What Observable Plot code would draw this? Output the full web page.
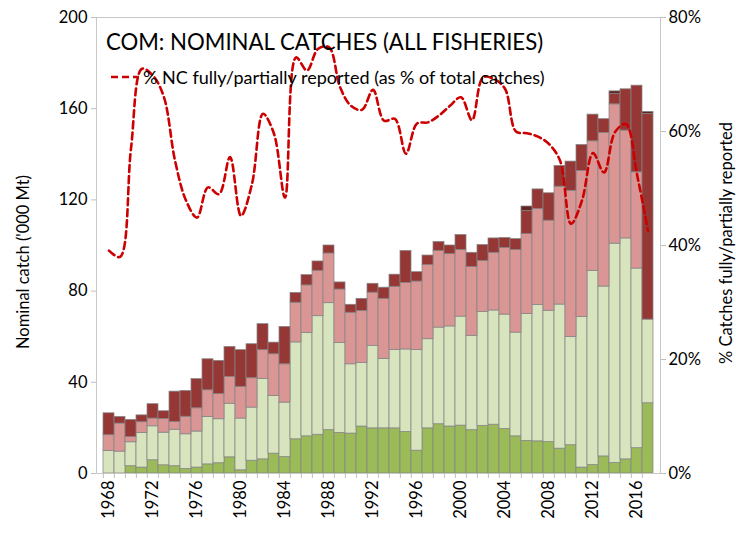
<!DOCTYPE html>
<html><head><meta charset="utf-8">
<script src="https://cdn.jsdelivr.net/npm/d3@7"></script>
<script src="https://cdn.jsdelivr.net/npm/@observablehq/plot@0.6"></script>
<style>
body{margin:0;background:#fff;font-family:Lato,"Open Sans",sans-serif;}
#wrap{position:relative;width:736px;height:533px;}
#title{position:absolute;left:106px;top:28px;font-size:22.2px;line-height:27px;color:#000;white-space:nowrap;}
#legend{position:absolute;left:111px;top:66px;font-size:18px;line-height:22px;color:#000;display:flex;align-items:center;white-space:nowrap;}
#legend svg{margin-right:4px;}
.ytitle{position:absolute;font-size:16.5px;line-height:20px;color:#000;white-space:nowrap;transform:translate(-50%,-50%) rotate(-90deg);}
</style></head><body>
<div id="wrap">
<div id="chart"></div>
<div id="title">COM: NOMINAL CATCHES (ALL FISHERIES)</div>
<div id="legend"><svg width="28" height="8"><line x1="0" y1="4" x2="28" y2="4" stroke="#cc0000" stroke-width="2.6" stroke-dasharray="7,4"/></svg><span>% NC fully/partially reported (as % of total catches)</span></div>
<div class="ytitle" style="left:23px;top:262px;">Nominal catch ('000 Mt)</div>
<div class="ytitle" style="left:726px;top:243px;">% Catches fully/partially reported</div>
</div>
<script>
const years = d3.range(1968, 2018);
const labelYears = [1968,1972,1976,1980,1984,1988,1992,1996,2000,2004,2008,2012,2016];
const leftTicks = [0,40,80,120,160,200];
const rightTicks = [0,20,40,60,80];
const seriesNames = ["Fully reported","Partially reported (a)","Partially reported (b)","Not reported","Unknown"];
const seriesColors = ["#9bbb59","#d7e4bd","#d99694","#953735","#632523"];

// '000 t by year, bottom to top
const darkGreen = [0,0,3.2,2.6,5.8,3.6,3.2,2.0,2.6,4.0,4.5,7.1,1.4,5.6,6.2,8.7,7.2,15.0,16.3,17.0,19.0,17.8,17.5,20.6,19.8,19.8,19.8,18.2,10.0,19.8,21.6,20.6,21.0,19.0,20.9,21.4,19.5,16.3,14.3,14.1,13.8,10.9,12.4,2.6,3.7,7.5,4.6,6.2,11.1,30.8];
const lightGreen = [9.9,9.6,10.5,15.2,14.9,14.3,16.0,15.2,15.8,20.8,19.3,23.5,22.7,23.3,35.2,25.3,23.9,42.5,45.3,52.0,55.7,39.5,30.4,27.9,36.2,30.5,34.4,36.2,44.2,39.1,42.4,43.9,47.8,41.4,49.9,50.1,50.2,45.5,55.6,59.8,57.6,63.2,47.5,66.1,85.2,74.5,96.2,96.9,78.8,36.7];
const pink = [6.9,12.3,2.3,4.7,3.4,6.0,3.4,7.7,10.2,11.7,11.0,11.8,13.9,12.9,12.7,18.3,16.8,17.4,20.9,19.9,21.8,23.4,22.6,22.8,23.3,26.3,27.7,29.2,30.0,32.5,33.6,31.7,29.2,30.2,22.4,25.3,29.2,36.2,35.1,42.1,39.5,51.7,64.1,64.0,56.8,67.4,61.1,47.3,42.2,0];
const darkRed = [9.6,2.9,7.5,3.0,6.3,3.4,13.3,11.3,12.8,13.6,14.6,13.1,16.1,14.9,11.4,5.1,16.4,4.3,4.5,4.1,3.5,3.1,3.5,5.3,3.9,4.9,5.3,14.0,4.1,4.2,3.9,3.8,6.6,6.2,7.0,6.3,4.4,4.8,10.1,8.6,12.0,9.1,12.8,11.4,11.7,6.0,4.5,18.1,38.0,90.1];
const darkest = [0,0,0,0,0,0,0,0,0,0,0,0,0,0,0,0,0,0,0,0,0,0,0,0,0,0,0,0,0,0,0,0,0,0,0,0,0,0,2.0,0,0,0,0,0,0,0,1.2,0,0,1.0];
// % of total catches fully/partially reported
const pctReported = [39.1,38.0,57.0,71.0,69.8,66.0,54.9,47.9,44.9,50.2,49.0,55.5,45.2,50.8,63.1,59.6,48.4,73.0,70.7,74.5,74.8,67.8,64.5,63.8,67.3,61.9,62.2,56.1,61.4,61.6,62.8,64.5,66.0,62.0,69.5,69.2,67.5,60.0,59.7,59.1,57.8,54.9,43.8,47.9,56.2,52.8,59.9,61.3,52.5,42.6];

const seriesValues = [darkGreen, lightGreen, pink, darkRed, darkest];
const rows = [];
seriesValues.forEach((vals, s) => years.forEach((year, i) => rows.push({year, series: seriesNames[s], value: vals[i]})));
const lineRows = years.map((year, i) => ({year, pct: pctReported[i]}));
const PCT_MAX = 80, Y_MAX = 200, K = Y_MAX / PCT_MAX;

const W = 736, ML = 96, MR = 76;
const bw = (W - ML - MR) / years.length;
const font = "Lato, 'Open Sans', sans-serif";

const chart = Plot.plot({
  width: W, height: 533,
  marginLeft: ML, marginRight: MR, marginTop: 17, marginBottom: 60,
  style: {fontFamily: font, fontSize: "16px", color: "#000", background: "#fff", overflow: "visible"},
  x: {type: "band", domain: years, padding: 0, axis: null, label: null},
  y: {domain: [0, Y_MAX], axis: null, label: null},
  color: {domain: seriesNames, range: seriesColors},
  marks: [
    Plot.barY(rows, Plot.stackY({x: "year", y: "value", fill: "series", order: null, stroke: "#858585", strokeWidth: 0.75})),
    Plot.frame({stroke: "#c8c8c8"}),
    Plot.axisY({anchor: "left", ticks: leftTicks, tickSize: 5, tickPadding: 4, stroke: "#bfbfbf", fontSize: 16.5, label: null}),
    Plot.axisY({anchor: "right", ticks: rightTicks.map(d => d * K), tickFormat: d => Math.round(d / K) + "%", tickSize: 5, tickPadding: 3, stroke: "#bfbfbf", fontSize: 16.5, label: null}),
    Plot.axisX({ticks: years, tickSize: 5, tickFormat: () => "", dx: -bw / 2, stroke: "#bfbfbf", label: null}),
    Plot.axisX({ticks: labelYears, tickFormat: d => String(d), tickSize: 0, tickPadding: 7, tickRotate: -90, fontSize: 16.5, label: null}),
    Plot.lineY(lineRows, {x: "year", y: d => d.pct * K, curve: "catmull-rom", stroke: "#cc0000", strokeWidth: 2.6, strokeDasharray: "7,4"})
  ]
});
document.getElementById("chart").appendChild(chart);
</script>
</body></html>
